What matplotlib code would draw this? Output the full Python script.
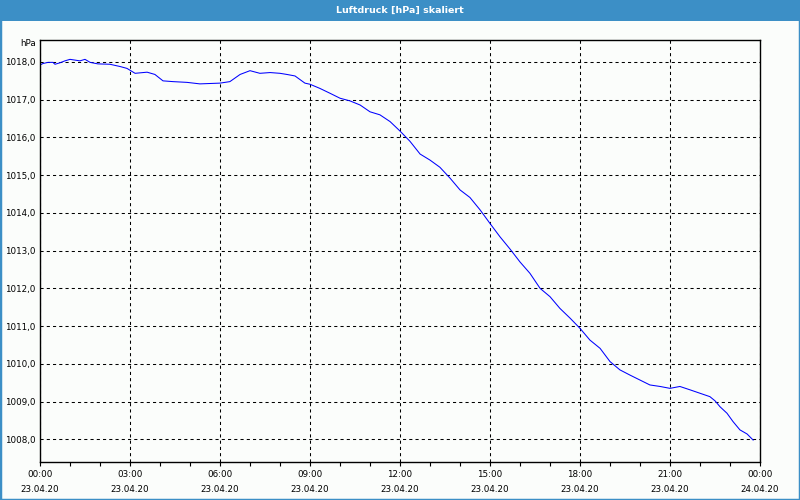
import matplotlib
matplotlib.use("Agg")
import matplotlib.pyplot as plt
from matplotlib.patches import Rectangle
from matplotlib.ticker import MultipleLocator

# Luftdruck 23.04.20 00:00 - 24.04.20 00:00, Zeit in Stunden
hours = [0.0, 0.1, 0.27, 0.43, 0.5, 0.67, 0.83, 1.0, 1.17, 1.33, 1.5, 1.67,
         1.93, 2.33, 2.67, 2.9, 3.17, 3.57, 3.83, 4.1, 4.43, 4.9, 5.33, 6.0,
         6.33, 6.67, 7.0, 7.33, 7.67, 8.0, 8.23, 8.5, 8.83, 9.0, 9.33, 9.67,
         10.0, 10.33, 10.67, 11.0, 11.33, 11.67, 12.0, 12.33, 12.67, 13.0,
         13.33, 13.67, 14.0, 14.33, 14.67, 15.0, 15.33, 15.67, 16.0, 16.33,
         16.67, 17.0, 17.33, 17.67, 18.0, 18.33, 18.67, 19.0, 19.33, 19.67,
         20.0, 20.33, 20.67, 21.0, 21.33, 21.67, 22.0, 22.33, 22.5, 22.67,
         22.9, 23.1, 23.33, 23.57, 23.77]
pressure = [1017.92, 1017.96, 1017.99, 1017.99, 1017.94, 1017.98, 1018.03,
            1018.07, 1018.05, 1018.03, 1018.07, 1017.99, 1017.95, 1017.94,
            1017.88, 1017.83, 1017.70, 1017.73, 1017.67, 1017.50, 1017.48,
            1017.46, 1017.42, 1017.44, 1017.48, 1017.67, 1017.77, 1017.70,
            1017.72, 1017.70, 1017.67, 1017.63, 1017.44, 1017.41, 1017.30,
            1017.17, 1017.04, 1016.97, 1016.86, 1016.68, 1016.60, 1016.42,
            1016.17, 1015.90, 1015.56, 1015.40, 1015.21, 1014.92, 1014.61,
            1014.41, 1014.08, 1013.72, 1013.37, 1013.04, 1012.70, 1012.40,
            1012.00, 1011.78, 1011.47, 1011.21, 1010.94, 1010.63, 1010.41,
            1010.06, 1009.84, 1009.70, 1009.57, 1009.44, 1009.40, 1009.35,
            1009.40, 1009.31, 1009.22, 1009.13, 1009.02, 1008.86, 1008.69,
            1008.47, 1008.25, 1008.14, 1007.98]

x_ticks = [0, 3, 6, 9, 12, 15, 18, 21, 24]
x_labels = ["00:00\n23.04.20", "03:00\n23.04.20", "06:00\n23.04.20",
            "09:00\n23.04.20", "12:00\n23.04.20", "15:00\n23.04.20",
            "18:00\n23.04.20", "21:00\n23.04.20", "00:00\n24.04.20"]
y_ticks = [1008, 1009, 1010, 1011, 1012, 1013, 1014, 1015, 1016, 1017, 1018]

title = "Luftdruck [hPa] skaliert"
unit = "hPa"

blue = "#3c8fc6"
bg = "#fbfdfb"

plt.rcParams["font.family"] = ["DejaVu Sans"]

fig = plt.figure(figsize=(8, 5), dpi=100, facecolor=bg)

# Fensterrahmen und Titelleiste
fig.patches.append(Rectangle((0, 0), 1, 1, transform=fig.transFigure,
                             facecolor="none", edgecolor=blue, linewidth=2.5))
fig.patches.append(Rectangle((0, 1 - 21 / 500), 1, 21 / 500,
                             transform=fig.transFigure, facecolor=blue,
                             edgecolor="none"))
fig.text(0.5, 1 - 10 / 500, title, color="white", fontsize=6.8,
         fontweight="bold", ha="center", va="center")

ax = fig.add_axes([40 / 800, 38 / 500, 720 / 800, 422 / 500])
ax.set_facecolor(bg)

ax.plot(hours, pressure, color="#0000ff", linewidth=0.75)

ax.set_xlim(0, 24)
ax.set_ylim(1007.398, 1018.583)

ax.set_xticks(x_ticks)
ax.set_xticklabels(x_labels)
ax.xaxis.set_minor_locator(MultipleLocator(1))
ax.set_yticks(y_ticks)
ax.set_yticklabels([f"{v:.1f}".replace(".", ",") for v in y_ticks])

ax.tick_params(axis="x", which="both", direction="out", length=3, width=0.8,
               labelsize=6.3, pad=3, colors="black")
ax.tick_params(axis="y", length=0, labelsize=6.3, pad=3, colors="black")
for lbl in ax.get_xticklabels():
    lbl.set_linespacing(1.85)

ax.grid(True, which="major", color="black", linewidth=0.75,
        linestyle=(0, (3, 3)))

for sp in ax.spines.values():
    sp.set_color("black")
    sp.set_linewidth(1.0)

fig.text(36 / 800, 1 - 44 / 500, unit, fontsize=6.3, ha="right", va="center")

fig.savefig("out.png", dpi=100, facecolor=bg)
